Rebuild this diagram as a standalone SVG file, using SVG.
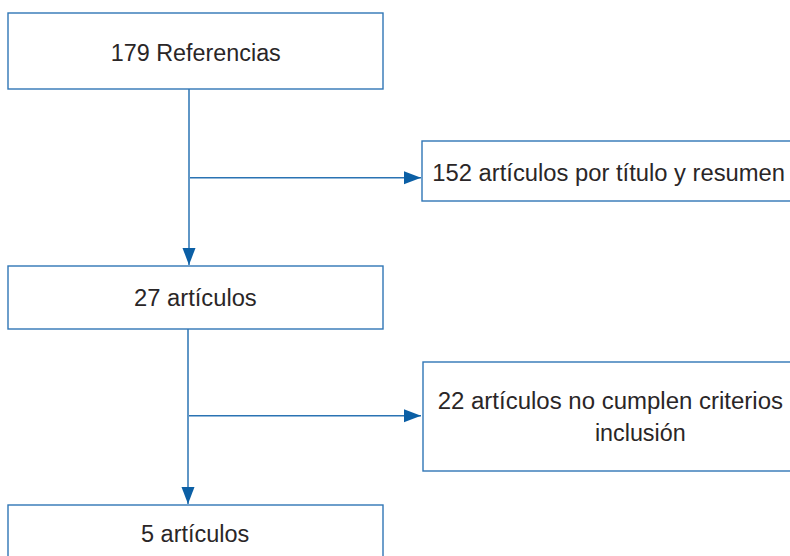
<svg xmlns="http://www.w3.org/2000/svg" width="790" height="556" viewBox="0 0 790 556">
<style>
.box{fill:#ffffff;stroke:#2f76b6;stroke-width:1.4}
.lbl{font-family:"Liberation Sans",Arial,sans-serif;font-size:23px;fill:#2a2627}
.c{text-anchor:middle}
.edge{stroke:#2a73b3;stroke-width:1.5;fill:none}
</style>
<defs>
<marker id="ah" markerUnits="userSpaceOnUse" markerWidth="18" markerHeight="14" refX="17" refY="7" orient="auto">
<path d="M0,0.5 L17,7 L0,13.5 Z" fill="#0b5fa5"/>
</marker>
</defs>
<rect width="790" height="556" fill="#ffffff"/>
<g id="edges">
<line class="edge" x1="189" y1="89" x2="189" y2="265" marker-end="url(#ah)"/>
<line class="edge" x1="190" y1="177.7" x2="421" y2="177.7" marker-end="url(#ah)"/>
<line class="edge" x1="188" y1="329" x2="188" y2="504" marker-end="url(#ah)"/>
<line class="edge" x1="189" y1="415.7" x2="421" y2="415.7" marker-end="url(#ah)"/>
</g>
<g id="n1">
<rect class="box" x="8" y="13" width="375" height="76"/>
<text class="lbl c" x="195.8" y="60.7" textLength="170" lengthAdjust="spacingAndGlyphs">179 Referencias</text>
</g>
<g id="n2">
<rect class="box" x="422" y="141" width="380" height="60"/>
<text class="lbl" x="432.3" y="180.7" textLength="352.7" lengthAdjust="spacingAndGlyphs">152 artículos por título y resumen</text>
</g>
<g id="n3">
<rect class="box" x="8" y="266" width="375" height="63"/>
<text class="lbl c" x="195.4" y="305.7" textLength="122.7" lengthAdjust="spacingAndGlyphs">27 artículos</text>
</g>
<g id="n4">
<rect class="box" x="423" y="362" width="380" height="109"/>
<text class="lbl" x="437.7" y="409.3" textLength="345.3" lengthAdjust="spacingAndGlyphs">22 artículos no cumplen criterios</text>
<text class="lbl c" x="640.3" y="440.7" textLength="90.7" lengthAdjust="spacingAndGlyphs">inclusión</text>
</g>
<g id="n5">
<rect class="box" x="8" y="505" width="375" height="60"/>
<text class="lbl c" x="195.2" y="541.7" textLength="108.3" lengthAdjust="spacingAndGlyphs">5 artículos</text>
</g>
</svg>
